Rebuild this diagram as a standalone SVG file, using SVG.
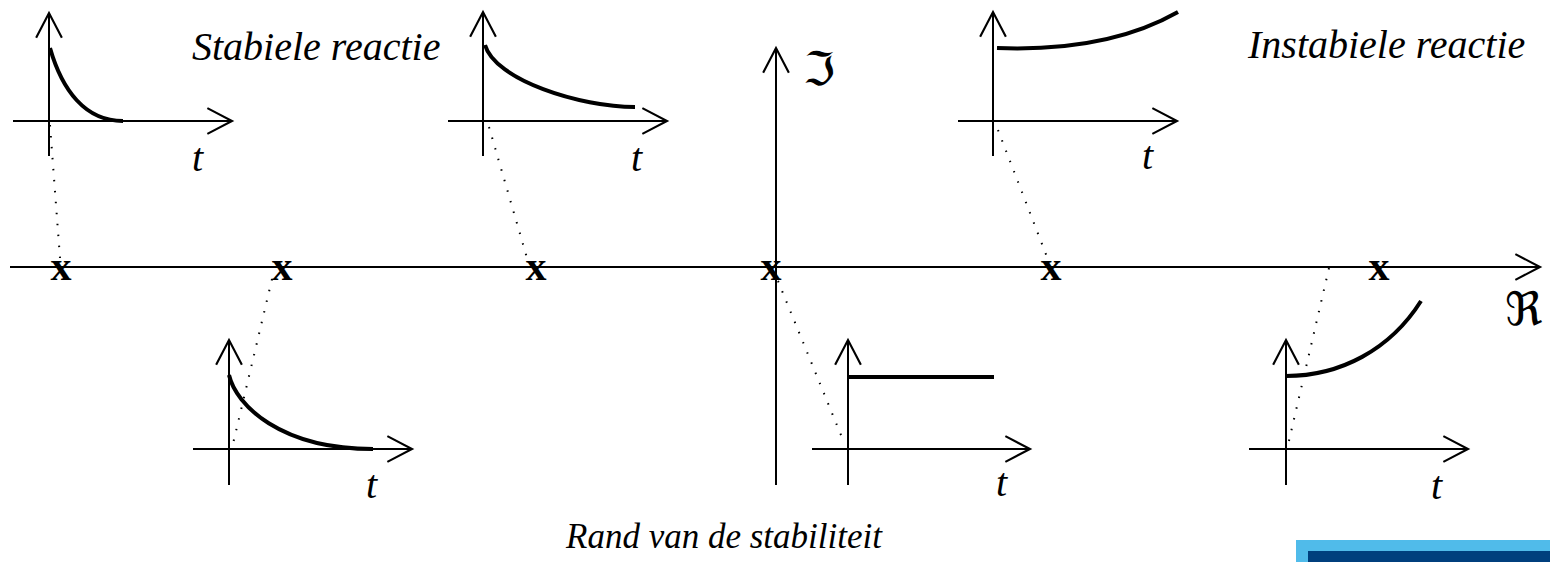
<svg xmlns="http://www.w3.org/2000/svg" width="1550" height="562" viewBox="0 0 1550 562">
<defs>
<marker id="arr" markerUnits="userSpaceOnUse" markerWidth="30" markerHeight="30" viewBox="-26 -14 28 28" refX="0" refY="0" orient="auto" overflow="visible">
<path d="M-23,-12 L0,0 L-23,12" fill="none" stroke="#000" stroke-width="2"/>
</marker>
</defs>
<style>
.ax{stroke:#000;stroke-width:2;fill:none}
.cv{stroke:#000;stroke-width:4;fill:none}
.dot{stroke:#000;stroke-width:2;fill:none;stroke-dasharray:1.5 9.5}
.lbl{font-family:"Liberation Serif","Times New Roman",serif;font-style:italic;font-size:40px;fill:#000}
.pole{font-family:"Liberation Serif","Times New Roman",serif;font-weight:bold;font-size:42px;fill:#000;text-anchor:middle}
.frak{font-family:"DejaVu Serif","DejaVu Sans",serif;font-size:46px;fill:#000}
</style>
<rect width="1550" height="562" fill="#fff"/>
<g id="main-axes">
<line class="ax" x1="10" y1="267" x2="1540" y2="267" marker-end="url(#arr)"/>
<line class="ax" x1="776" y1="485" x2="776" y2="48" marker-end="url(#arr)"/>
<text class="frak" x="803" y="85">ℑ</text>
<text class="frak" x="1505" y="325">ℜ</text>
</g>
<g id="poles">
<text class="pole" x="61" y="280">x</text>
<text class="pole" x="282" y="280">x</text>
<text class="pole" x="536" y="280">x</text>
<text class="pole" x="771" y="280">x</text>
<text class="pole" x="1051" y="280">x</text>
<text class="pole" x="1379" y="280">x</text>
</g>
<g id="connectors">
<line class="dot" x1="50" y1="125" x2="60" y2="258"/>
<line class="dot" x1="489" y1="127" x2="527" y2="258"/>
<line class="dot" x1="998" y1="130" x2="1047" y2="257"/>
<line class="dot" x1="272" y1="279" x2="232" y2="448"/>
<line class="dot" x1="778" y1="281" x2="843" y2="440"/>
<line class="dot" x1="1329" y1="268" x2="1288" y2="445"/>
</g>
<g id="plot-top-left">
<line class="ax" x1="13" y1="121" x2="232" y2="121" marker-end="url(#arr)"/>
<line class="ax" x1="49" y1="156" x2="49" y2="13" marker-end="url(#arr)"/>
<path class="cv" d="M50,48 C62,90 85,121 123,121"/>
<text class="lbl" x="192" y="171">t</text>
</g>
<g id="plot-top-middle">
<line class="ax" x1="448" y1="121" x2="667" y2="121" marker-end="url(#arr)"/>
<line class="ax" x1="483" y1="156" x2="483" y2="12" marker-end="url(#arr)"/>
<path class="cv" d="M485,45 C495,80 580,107 635,107"/>
<text class="lbl" x="631" y="171">t</text>
</g>
<g id="plot-top-right">
<line class="ax" x1="958" y1="121" x2="1177" y2="121" marker-end="url(#arr)"/>
<line class="ax" x1="993" y1="156" x2="993" y2="12" marker-end="url(#arr)"/>
<path class="cv" d="M997,48 C1050,50 1120,45 1178,12"/>
<text class="lbl" x="1142" y="169">t</text>
</g>
<g id="plot-bottom-left">
<line class="ax" x1="193" y1="449" x2="412" y2="449" marker-end="url(#arr)"/>
<line class="ax" x1="229" y1="485" x2="229" y2="340" marker-end="url(#arr)"/>
<path class="cv" d="M229,375 C236,405 280,449 373,449"/>
<text class="lbl" x="366" y="498">t</text>
</g>
<g id="plot-bottom-middle">
<line class="ax" x1="812" y1="449" x2="1030" y2="449" marker-end="url(#arr)"/>
<line class="ax" x1="848" y1="485" x2="848" y2="340" marker-end="url(#arr)"/>
<path class="cv" d="M848,377 H994"/>
<text class="lbl" x="996" y="496">t</text>
</g>
<g id="plot-bottom-right">
<line class="ax" x1="1249" y1="449" x2="1468" y2="449" marker-end="url(#arr)"/>
<line class="ax" x1="1286" y1="485" x2="1286" y2="340" marker-end="url(#arr)"/>
<path class="cv" d="M1286,376 C1340,376 1390,350 1421,301"/>
<text class="lbl" x="1431" y="499">t</text>
</g>
<g id="labels">
<text class="lbl" x="192" y="60">Stabiele reactie</text>
<text class="lbl" x="1248" y="58">Instabiele reactie</text>
<text class="lbl" x="724" y="548" text-anchor="middle" style="font-size:35px">Rand van de stabiliteit</text>
</g>
<g id="corner-bar">
<rect x="1296" y="540" width="254" height="22" fill="#50bbea"/>
<rect x="1308" y="551" width="242" height="11" fill="#003f7d"/>
</g>
</svg>
